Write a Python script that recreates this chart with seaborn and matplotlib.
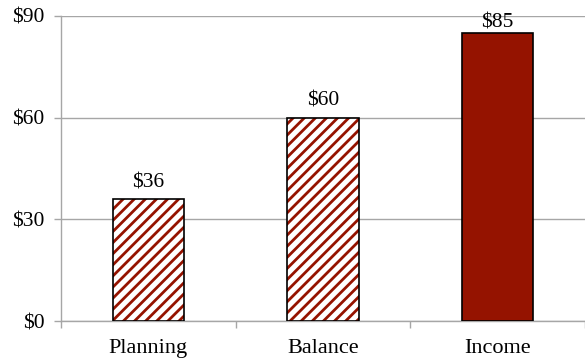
import matplotlib
matplotlib.use("Agg")
import matplotlib.pyplot as plt
import seaborn as sns
import pandas as pd
from matplotlib.patches import Rectangle

categories = ["Planning", "Balance", "Income"]
values = [36, 60, 85]
value_labels = ["$36", "$60", "$85"]
yticks = [0, 30, 60, 90]
ytick_labels = ["$0", "$30", "$60", "$90"]

sns.set_theme(style="white")
plt.rcParams["font.family"] = ["Liberation Serif", "DejaVu Serif"]
plt.rcParams["hatch.linewidth"] = 2.0

red = "#951300"
grid = "#A6A6A6"
fs = 15.5
fsx = 16

fig = plt.figure(figsize=(5.85, 3.63), dpi=100)
ax = fig.add_axes([61 / 585, 42 / 363, 524 / 585, 305 / 363])

df = pd.DataFrame({"cat": categories, "val": values})
sns.barplot(data=df, x="cat", y="val", ax=ax, color=red, width=0.41,
            saturation=1, zorder=3)

for i, p in enumerate(ax.patches):
    if i < 2:
        p.set_facecolor("white")
        p.set_edgecolor(red)
        p.set_hatch("///")
        p.set_linewidth(0)
        ax.add_patch(Rectangle(p.get_xy(), p.get_width(), p.get_height(),
                               fill=False, edgecolor="black", linewidth=1.2,
                               zorder=4))
    else:
        p.set_edgecolor("black")
        p.set_linewidth(1.2)

ymax = yticks[-1]
for i, (v, lab) in enumerate(zip(values, value_labels)):
    if v > ymax * 0.9:
        ax.annotate(lab, (i, ymax), xytext=(0, 1.5), textcoords="offset points",
                    ha="center", va="top", fontsize=fs, color="black",
                    zorder=5, annotation_clip=False)
    else:
        ax.annotate(lab, (i, v), xytext=(0, 5), textcoords="offset points",
                    ha="center", va="bottom", fontsize=fs, color="black",
                    zorder=5)

ax.set_ylim(0, ymax)
ax.set_xlim(-0.5, 2.5)
ax.set_yticks(yticks)
ax.set_yticklabels(ytick_labels, fontsize=fs)
ax.set_xticks(range(len(categories)))
ax.set_xticklabels(categories, fontsize=fsx)
ax.set_xticks([-0.5, 0.5, 1.5, 2.5], minor=True)
ax.tick_params(axis="x", which="major", length=0, pad=13, colors="black")
ax.tick_params(axis="x", which="minor", length=5, width=1, color=grid,
               direction="out", bottom=True)
ax.tick_params(axis="y", length=5, width=1, color=grid, direction="out",
               left=True, pad=7, labelcolor="black")
ax.set_xlabel("")
ax.set_ylabel("")
ax.yaxis.grid(True, color=grid, linewidth=1, zorder=0)
ax.set_axisbelow(True)
for s in ["top", "right"]:
    ax.spines[s].set_visible(False)
for s in ["left", "bottom"]:
    ax.spines[s].set_color(grid)
    ax.spines[s].set_linewidth(1)

fig.savefig("out.png", dpi=100)
